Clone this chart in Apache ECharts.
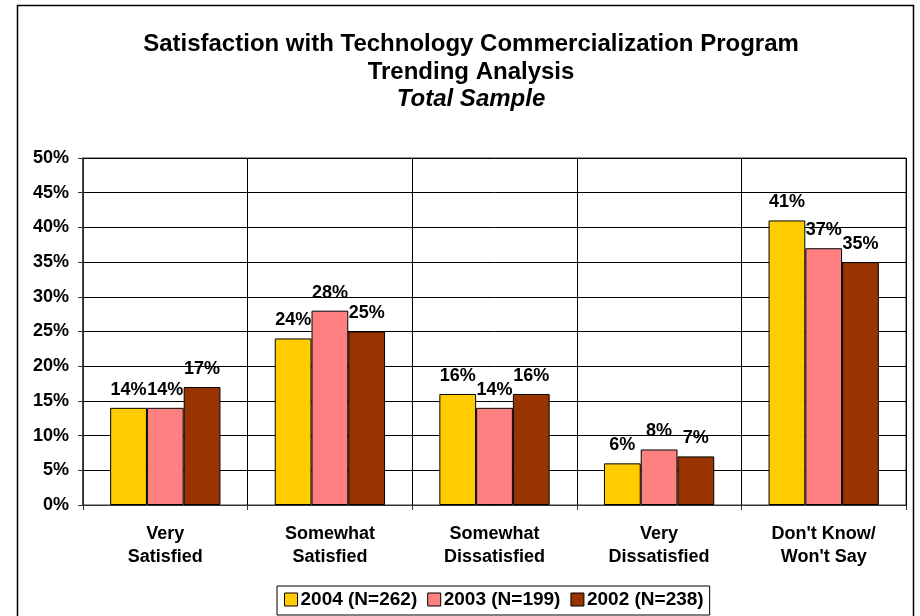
<!DOCTYPE html>
<html>
<head>
    <meta charset="utf-8">
    <title>Satisfaction with Technology Commercialization Program</title>
    <script src="https://cdn.jsdelivr.net/npm/echarts@6/dist/echarts.min.js"></script>
</head>
<body style="margin:0">
<div id="main" style="width: 920px;height:616px;"></div>
<script type="text/javascript">
    // categories and series values (percent)
    var categories = ['Very\nSatisfied', 'Somewhat\nSatisfied', 'Somewhat\nDissatisfied', 'Very\nDissatisfied', "Don't Know/\nWon't Say"];
    var s2004 = [14, 24, 16, 6, 41];
    var s2003 = [14, 28, 14, 8, 37];
    var s2002 = [17, 25, 16, 7, 35];
    var seriesNames = ['2004 (N=262)', '2003 (N=199)', '2002 (N=238)'];
    var seriesColors = ['#FFCC00', '#FF8080', '#993300'];

    var font = 'Arial, "Liberation Sans", sans-serif';
    var myChart = echarts.init(document.getElementById('main'));

    function makeSeries(name, data, color) {
        return {
            name: name,
            type: 'bar',
            data: data,
            barGap: '0%',
            barCategoryGap: '33%',
            itemStyle: { color: color, borderColor: '#000', borderWidth: 1 },
            label: {
                show: true,
                position: 'top',
                distance: 9,
                formatter: '{c}%',
                color: '#000',
                fontFamily: font,
                fontWeight: 'bold',
                fontSize: 18
            }
        };
    }

    var option = {
        animation: false,
        backgroundColor: '#fff',
        title: {
            left: 466,
            top: 26,
            textAlign: 'center',
            text: '{a|Satisfaction with Technology Commercialization Program}\n{a|Trending Analysis}\n{b|Total Sample}',
            textStyle: {
                rich: {
                    a: { fontFamily: font, fontSize: 24, fontWeight: 'bold', color: '#000', lineHeight: 27.5, align: 'center' },
                    b: { fontFamily: font, fontSize: 24, fontWeight: 'bold', fontStyle: 'italic', color: '#000', lineHeight: 27.5, align: 'center' }
                }
            }
        },
        graphic: [{
            type: 'rect',
            shape: { x: 17.5, y: 5.5, width: 896, height: 640 },
            style: { fill: 'none', stroke: '#000', lineWidth: 1.5 },
            silent: true,
            z: -1
        }],
        legend: {
            left: 277,
            top: 586,
            padding: [4, 6, 6, 7],
            itemGap: 10,
            itemWidth: 13,
            itemHeight: 13,
            icon: 'rect',
            borderColor: '#000',
            borderWidth: 1,
            data: seriesNames,
            textStyle: { fontFamily: font, fontWeight: 'bold', fontSize: 19, color: '#000', padding: [0, 0, 0, -2] },
            itemStyle: { borderColor: '#000', borderWidth: 1 }
        },
        grid: {
            left: 83,
            right: 14,
            top: 158,
            bottom: 111,
            show: true,
            borderColor: '#333',
            borderWidth: 1
        },
        xAxis: {
            type: 'category',
            data: categories,
            axisLine: { lineStyle: { color: '#333', width: 1 } },
            axisTick: { show: true, length: 5, lineStyle: { color: '#333' } },
            splitLine: { show: true, lineStyle: { color: '#000', width: 1 } },
            axisLabel: {
                margin: 18,
                color: '#000',
                fontFamily: font,
                fontWeight: 'bold',
                fontSize: 18,
                lineHeight: 23
            }
        },
        yAxis: {
            type: 'value',
            min: 0,
            max: 50,
            interval: 5,
            axisLine: { show: true, lineStyle: { color: '#333', width: 1.5 } },
            axisTick: { show: true, length: 5, lineStyle: { color: '#333' } },
            splitLine: { show: true, lineStyle: { color: '#000', width: 1 } },
            axisLabel: {
                margin: 14,
                formatter: '{value}%',
                color: '#000',
                fontFamily: font,
                fontWeight: 'bold',
                fontSize: 18
            }
        },
        series: [
            makeSeries(seriesNames[0], s2004, seriesColors[0]),
            makeSeries(seriesNames[1], s2003, seriesColors[1]),
            makeSeries(seriesNames[2], s2002, seriesColors[2])
        ]
    };
    myChart.setOption(option);
</script>
</body>
</html>
